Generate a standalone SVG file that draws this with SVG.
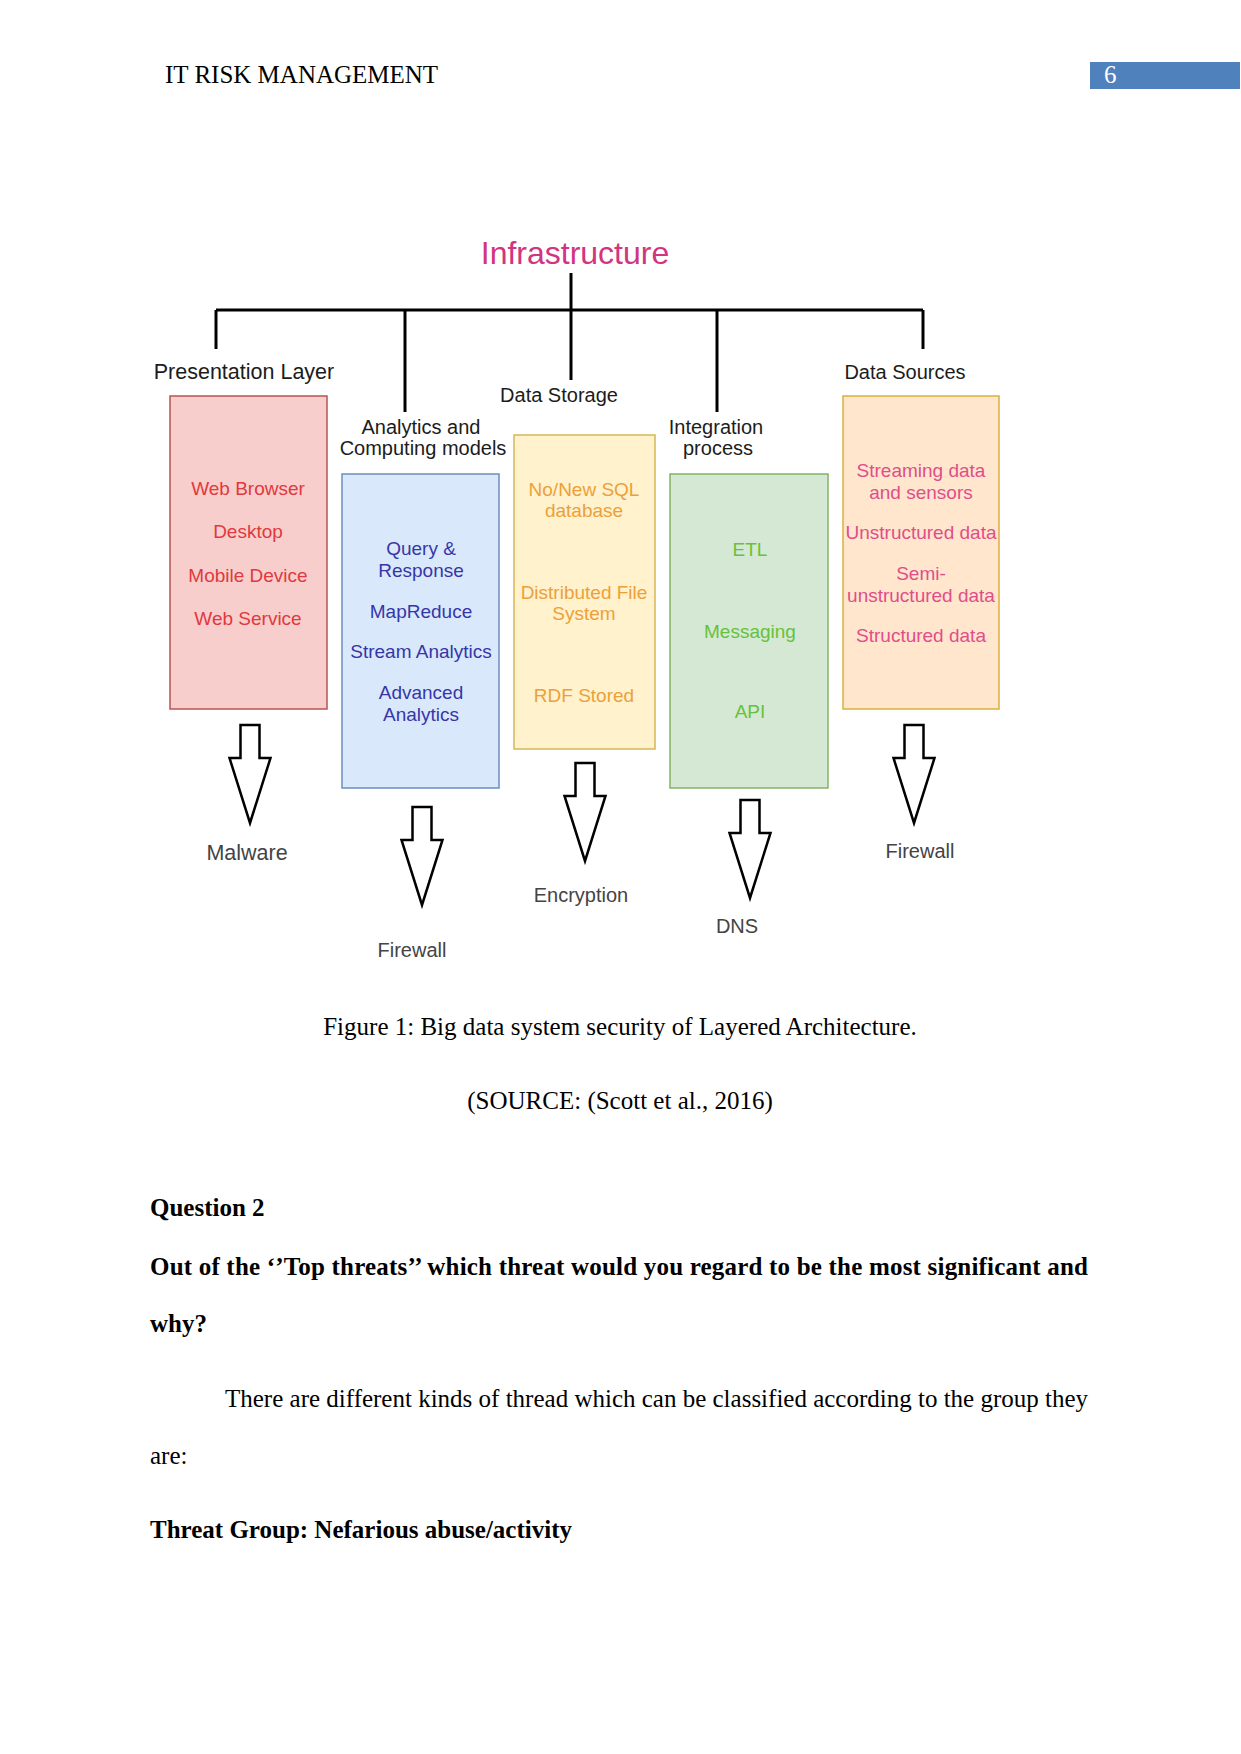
<svg xmlns="http://www.w3.org/2000/svg" xmlns:xlink="http://www.w3.org/1999/xlink" width="1241" height="1754" viewBox="0 0 1241 1754">
<style>
.serif{font-family:"Liberation Serif","Times New Roman",serif;fill:#000;font-size:25px}
.b{font-weight:bold}
.sans{font-family:"Liberation Sans",Arial,sans-serif}
.lbl{font-size:20px;fill:#1c1c1c;text-anchor:middle}
.item{font-size:19px;text-anchor:middle}
.threat{font-size:20px;fill:#444;text-anchor:middle}
.tree{stroke:#000;stroke-width:3;fill:none}
.arrow{fill:#fff;stroke:#000;stroke-width:2.5;stroke-linejoin:miter}
</style>
<defs>
<path id="blk" class="arrow" d="M -9.5 0 H 9.5 V 33 H 20.5 L 0 98 L -20.5 33 H -9.5 Z"/>
</defs>
<rect width="1241" height="1754" fill="#fff"/>

<g id="header">
<text class="serif" x="165" y="83" font-size="24">IT RISK MANAGEMENT</text>
<rect x="1090" y="62" width="150" height="27" fill="#4f81bd"/>
<text class="serif" x="1104" y="83" style="fill:#fff" font-size="24">6</text>
</g>

<g id="root">
<text class="sans" x="575" y="264" font-size="32" text-anchor="middle" fill="#d1357f">Infrastructure</text>
</g>

<g id="connectors">
<path class="tree" d="M 216 310 H 923"/>
<path class="tree" d="M 216 310 V 349"/>
<path class="tree" d="M 405 310 V 412"/>
<path class="tree" d="M 571 273 V 380"/>
<path class="tree" d="M 717 310 V 412"/>
<path class="tree" d="M 923 310 V 349"/>
<use xlink:href="#blk" href="#blk" transform="translate(250,725)"/>
<use xlink:href="#blk" href="#blk" transform="translate(422,807)"/>
<use xlink:href="#blk" href="#blk" transform="translate(585,763)"/>
<use xlink:href="#blk" href="#blk" transform="translate(750,800)"/>
<use xlink:href="#blk" href="#blk" transform="translate(914,725)"/>
</g>

<g id="presentation">
<text class="sans lbl" x="244" y="379" style="font-size:21.5px">Presentation Layer</text>
<rect x="170" y="396" width="157" height="313" fill="#f8cecc" stroke="#b85450" stroke-width="1.5"/>
<g class="sans item" fill="#e0393e">
<text x="248" y="495">Web Browser</text>
<text x="248" y="538">Desktop</text>
<text x="248" y="582">Mobile Device</text>
<text x="248" y="625">Web Service</text>
</g>
</g>

<g id="analytics">
<text class="sans lbl" x="421" y="434">Analytics and</text>
<text class="sans lbl" x="423" y="455">Computing models</text>
<rect x="342" y="474" width="157" height="314" fill="#dae8fc" stroke="#6c8ebf" stroke-width="1.5"/>
<g class="sans item" fill="#3636a8">
<text x="421" y="555">Query &amp;</text>
<text x="421" y="577">Response</text>
<text x="421" y="618">MapReduce</text>
<text x="421" y="658">Stream Analytics</text>
<text x="421" y="699">Advanced</text>
<text x="421" y="721">Analytics</text>
</g>
</g>

<g id="storage">
<text class="sans lbl" x="559" y="402">Data Storage</text>
<rect x="514" y="435" width="141" height="314" fill="#fff2cc" stroke="#d6b656" stroke-width="1.5"/>
<g class="sans item" fill="#eda03a">
<text x="584" y="496">No/New SQL</text>
<text x="584" y="517">database</text>
<text x="584" y="599">Distributed File</text>
<text x="584" y="620">System</text>
<text x="584" y="702">RDF Stored</text>
</g>
</g>

<g id="integration">
<text class="sans lbl" x="716" y="434">Integration</text>
<text class="sans lbl" x="718" y="455">process</text>
<rect x="670" y="474" width="158" height="314" fill="#d5e8d4" stroke="#82b366" stroke-width="1.5"/>
<g class="sans item" fill="#66c23a">
<text x="750" y="556">ETL</text>
<text x="750" y="638">Messaging</text>
<text x="750" y="718">API</text>
</g>
</g>

<g id="sources">
<text class="sans lbl" x="905" y="379">Data Sources</text>
<rect x="843" y="396" width="156" height="313" fill="#ffe6cc" stroke="#d9b13c" stroke-width="1.5"/>
<g class="sans item" fill="#e14d8b">
<text x="921" y="477">Streaming data</text>
<text x="921" y="499">and sensors</text>
<text x="921" y="539">Unstructured data</text>
<text x="921" y="580">Semi-</text>
<text x="921" y="602">unstructured data</text>
<text x="921" y="642">Structured data</text>
</g>
</g>

<g id="threats">
<text class="sans threat" x="247" y="860" style="font-size:21.5px">Malware</text>
<text class="sans threat" x="412" y="957">Firewall</text>
<text class="sans threat" x="581" y="902">Encryption</text>
<text class="sans threat" x="737" y="933">DNS</text>
<text class="sans threat" x="920" y="858">Firewall</text>
</g>

<g id="body">
<text class="serif" x="620" y="1035" text-anchor="middle">Figure 1: Big data system security of Layered Architecture.</text>
<text class="serif" x="620" y="1109" text-anchor="middle">(SOURCE: (Scott et al., 2016)</text>
<text class="serif b" x="150" y="1216">Question 2</text>
<text class="serif b" x="150" y="1275" textLength="938" lengthAdjust="spacing">Out of the ‘’Top threats’’ which threat would you regard to be the most significant and</text>
<text class="serif b" x="150" y="1332">why?</text>
<text class="serif" x="225" y="1407">There are different kinds of thread which can be classified according to the group they</text>
<text class="serif" x="150" y="1464">are:</text>
<text class="serif b" x="150" y="1538">Threat Group: Nefarious abuse/activity</text>
</g>
</svg>
